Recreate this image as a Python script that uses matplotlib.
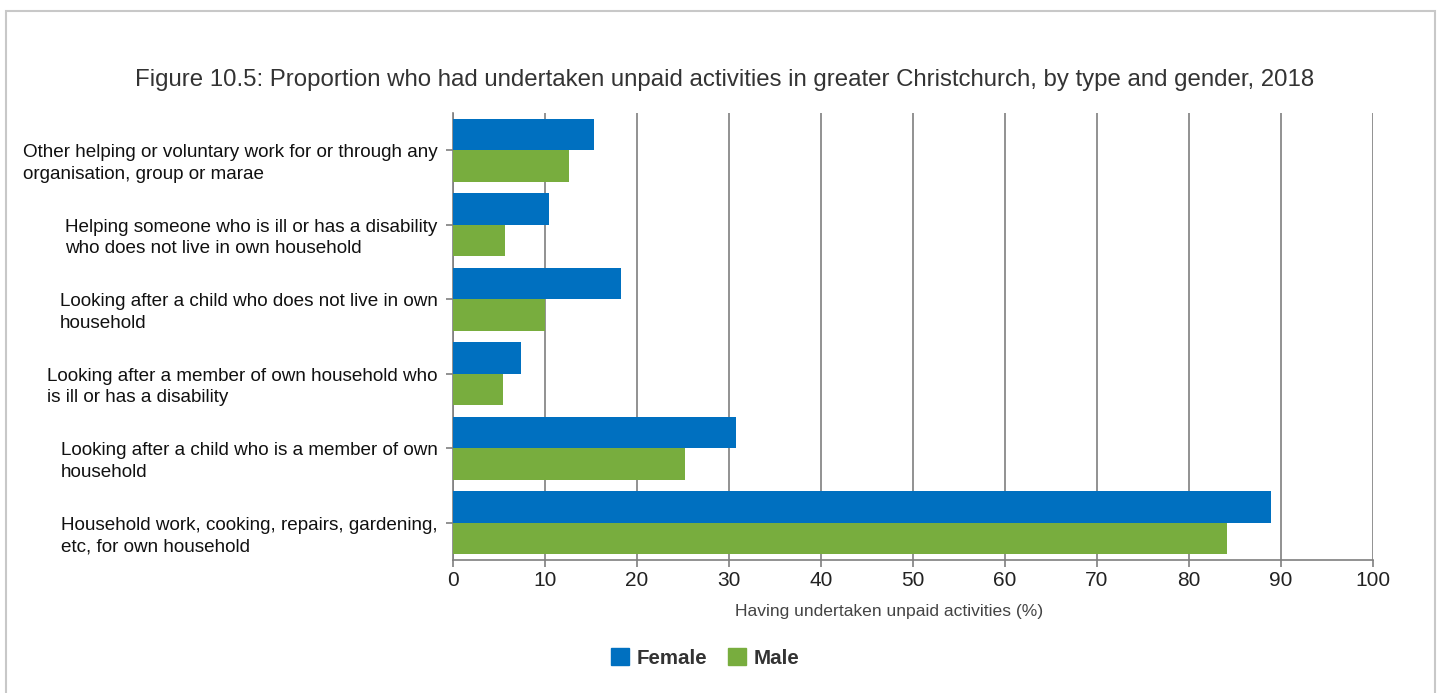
import matplotlib
matplotlib.use("Agg")
import matplotlib.pyplot as plt
import matplotlib.transforms as mtransforms
from matplotlib.patches import Rectangle, Patch
import numpy as np

plt.rcParams['font.family'] = ['Liberation Sans', 'DejaVu Sans']

# === Data ===
categories = [
    "Other helping or voluntary work for or through any\norganisation, group or marae",
    "Helping someone who is ill or has a disability\nwho does not live in own household",
    "Looking after a child who does not live in own\nhousehold",
    "Looking after a member of own household who\nis ill or has a disability",
    "Looking after a child who is a member of own\nhousehold",
    "Household work, cooking, repairs, gardening,\netc, for own household",
]
female = [15.3, 10.4, 18.3, 7.4, 30.8, 88.9]
male = [12.6, 5.6, 10.0, 5.4, 25.2, 84.1]
xticks = list(range(0, 101, 10))

title = ("Figure 10.5: Proportion who had undertaken unpaid activities in greater "
         "Christchurch, by type and gender, 2018")
xlabel = "Having undertaken unpaid activities (%)"

# === Styles ===
c_female = '#0070c0'
c_male = '#78ad3e'
c_grid = '#7f7f7f'
bar_h = 0.42

fig = plt.figure(figsize=(14.42, 6.93), dpi=100)
ax = fig.add_axes([453 / 1442, 1 - 560 / 693, 920 / 1442, 447 / 693])

# outer frame
fig.patches.append(Rectangle((6 / 1442, -0.05), 1429 / 1442, 1 - 11 / 693 + 0.05,
                             transform=fig.transFigure, fill=False,
                             edgecolor='#c8c8c8', linewidth=1.5))

y = np.arange(len(categories))
ax.barh(y - bar_h / 2, female, height=bar_h, color=c_female, label='Female', zorder=3)
ax.barh(y + bar_h / 2, male, height=bar_h, color=c_male, label='Male', zorder=3)

ax.set_xlim(0, 100)
ax.set_ylim(len(categories) - 0.5, -0.5)
ax.set_xticks(xticks)
ax.xaxis.grid(True, color=c_grid, linewidth=1.2, zorder=1)
ax.set_axisbelow(True)

for s in ['top', 'right']:
    ax.spines[s].set_visible(False)
for s in ['left', 'bottom']:
    ax.spines[s].set_color(c_grid)
    ax.spines[s].set_linewidth(1.2)

ax.tick_params(axis='x', length=5, width=1.2, color=c_grid, labelsize=15,
               labelcolor='#222222', pad=3)
ax.tick_params(axis='y', length=5, width=1.2, color=c_grid, labelsize=13.6,
               labelcolor='#111111', pad=6)

ax.set_yticks(y)
ax.set_yticklabels(categories, linespacing=1.37, multialignment='left')
# first line of each label sits level with its tick
shift = mtransforms.ScaledTranslation(0, -0.088, fig.dpi_scale_trans)
for lab in ax.get_yticklabels():
    lab.set_transform(lab.get_transform() + shift)

ax.set_xlabel(xlabel, fontsize=12.6, color='#444444')
ax.xaxis.set_label_coords(0.474, -0.098)

fig.text(725 / 1442, 1 - 80 / 693, title, ha='center', va='center',
         fontsize=17.3, color='#333333')

handles = [Patch(color=c_female, label='Female'), Patch(color=c_male, label='Male')]
fig.legend(handles=handles, loc='center', bbox_to_anchor=(705 / 1442, 1 - 658 / 693),
           ncol=2, frameon=False, handlelength=0.9, handleheight=0.9,
           handletextpad=0.35, columnspacing=1.0,
           prop={'weight': 'bold', 'size': 14.8})
for t in fig.legends[0].get_texts():
    t.set_color('#333333')

fig.savefig('out.png', dpi=100)
